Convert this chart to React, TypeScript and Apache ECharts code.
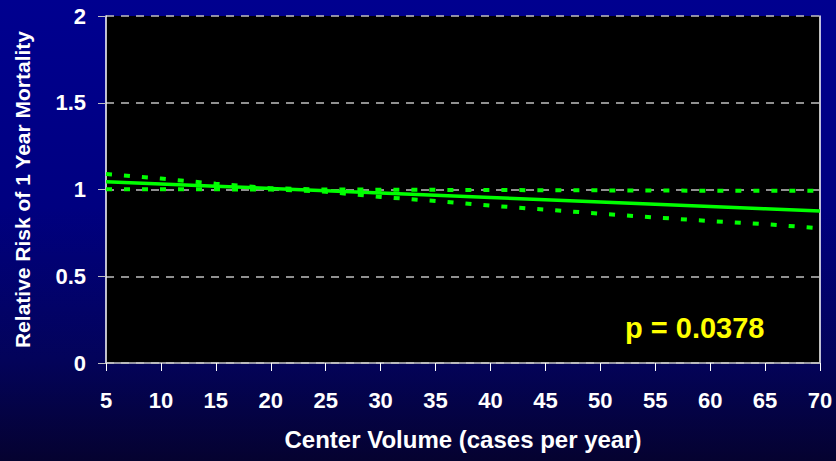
import React, { useEffect, useRef } from "react";
import * as echarts from "echarts";

const volumes = [5, 10, 15, 20, 25, 30, 35, 40, 45, 50, 55, 60, 65, 70];
const relativeRisk = [1.045, 1.032, 1.019, 1.006, 0.993, 0.98, 0.967, 0.954, 0.941, 0.928, 0.915, 0.902, 0.889, 0.876];
const upperBound = [1.089, 1.063, 1.033, 1.007, 1.0, 0.999, 0.998, 0.997, 0.996, 0.995, 0.994, 0.993, 0.993, 0.992];
const lowerBound = [1.001, 1.001, 1.001, 1.0, 0.987, 0.957, 0.934, 0.907, 0.884, 0.861, 0.839, 0.818, 0.8, 0.777];
const pValueLabel = "p = 0.0378";

const FONT = "'Liberation Sans', Arial, sans-serif";

export default function App() {
  const ref = useRef<HTMLDivElement>(null);
  useEffect(() => {
    if (!ref.current) return;
    const chart = echarts.init(ref.current, null, { renderer: "svg" });
    const pair = (arr: number[]) => volumes.map((v, i) => [v, arr[i]]);
    chart.setOption({
      animation: false,
      backgroundColor: {
        type: "linear", x: 0, y: 0, x2: 0, y2: 1,
        colorStops: [
          { offset: 0, color: "#00008F" },
          { offset: 0.45, color: "#000080" },
          { offset: 0.78, color: "#03035A" },
          { offset: 1, color: "#050230" },
        ],
      },
      grid: {
        left: 106, right: 16, top: 16, bottom: 98,
        show: true, backgroundColor: "#000000", borderWidth: 0,
      },
      xAxis: {
        type: "value", min: 5, max: 70, interval: 5,
        name: "Center Volume (cases per year)",
        nameLocation: "middle", nameGap: 64,
        nameTextStyle: { color: "#ffffff", fontFamily: FONT, fontWeight: "bold", fontSize: 24 },
        axisLine: { show: true, lineStyle: { color: "#c8c8c8", width: 1.5 } },
        axisTick: { show: true, length: 8, lineStyle: { color: "#ffffff", width: 1 } },
        axisLabel: { color: "#ffffff", fontFamily: FONT, fontWeight: "bold", fontSize: 22, margin: 26 },
        splitLine: { show: false },
      },
      yAxis: [
        {
          type: "value", min: 0, max: 2, interval: 0.5,
          name: "Relative Risk of 1 Year Mortality",
          nameLocation: "middle", nameGap: 73,
          nameTextStyle: { color: "#ffffff", fontFamily: FONT, fontWeight: "bold", fontSize: 21 },
          axisLine: { show: true, lineStyle: { color: "#ffffff", width: 1.5 } },
          axisTick: { show: true, length: 8, lineStyle: { color: "#c0c0c0", width: 1 } },
          axisLabel: { color: "#ffffff", fontFamily: FONT, fontWeight: "bold", fontSize: 22, margin: 20 },
          splitLine: { show: true, lineStyle: { color: "#c0c0c0", width: 1.5, type: [8, 7] } },
        },
        {
          type: "value", min: 0, max: 2, interval: 0.5, position: "right",
          axisLine: { show: true, lineStyle: { color: "#ffffff", width: 1.5 } },
          axisTick: { show: false }, axisLabel: { show: false }, splitLine: { show: false },
        },
      ],
      series: [
        {
          type: "line", data: pair(upperBound), showSymbol: false, symbol: "none",
          lineStyle: { color: "#00FF00", width: 4, type: [6, 12] }, z: 3,
        },
        {
          type: "line", data: pair(lowerBound), showSymbol: false, symbol: "none",
          lineStyle: { color: "#00FF00", width: 4, type: [6, 12] }, z: 3,
        },
        {
          type: "line", data: pair(relativeRisk), showSymbol: false, symbol: "none",
          lineStyle: { color: "#00FF00", width: 3.5 }, z: 4,
        },
      ],
      graphic: [
        {
          type: "text", left: 625, top: 313,
          style: { text: pValueLabel, fill: "#FFFF00", font: `bold 29px ${FONT}` },
        },
      ],
    });
    return () => chart.dispose();
  }, []);
  return <div ref={ref} style={{ position: "fixed", left: 0, top: 0, width: 836, height: 461 }} />;
}
